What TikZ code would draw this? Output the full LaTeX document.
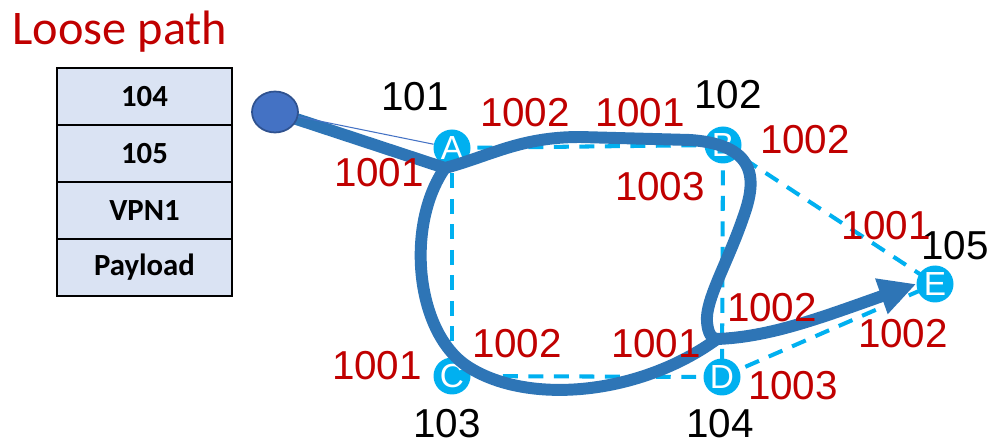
\documentclass[tikz,border=0pt]{standalone}
\usepackage{fontspec}
\setmainfont{Liberation Sans}
\newfontfamily\calibri{Carlito}
\usetikzlibrary{arrows.meta,positioning,shapes.geometric,backgrounds}
\definecolor{linkred}{HTML}{C00000}
\definecolor{linkcyan}{HTML}{00B0F0}
\definecolor{flowblue}{HTML}{2E75B6}
\definecolor{srcblue}{HTML}{4472C4}
\definecolor{srcedge}{HTML}{2F528F}
\definecolor{cellfill}{HTML}{DAE3F3}

\begin{document}
\begin{tikzpicture}[
  x=0.02cm, y=-0.02cm,
  router/.style={circle, fill=linkcyan, text=white, inner sep=0pt,
                 minimum size=0.74cm, font=\fontsize{19}{19}\selectfont},
  source/.style={ellipse, draw=srcedge, line width=1pt, fill=srcblue,
                 minimum width=0.92cm, minimum height=0.82cm, inner sep=0pt},
  cell/.style={draw, line width=1.4pt, fill=cellfill, minimum width=3.5cm,
               minimum height=1.14cm, outer sep=0pt, inner sep=0pt,
               font=\calibri\bfseries\fontsize{17.5}{17.5}\selectfont},
  label/.style={text=linkred, inner sep=0pt, font=\fontsize{23}{23}\selectfont},
  sid/.style={label, text=black},
  link/.style={draw=linkcyan, line width=2.3pt, dash pattern=on 8.5pt off 6pt},
  flow/.style={draw=flowblue, line width=6.8pt},
  arrow/.style={flow, -{Triangle[length=21pt, width=20pt]}}
]
\useasboundingbox (0,0) rectangle (987,445);

% label stack
\node[text=linkred, inner sep=0pt, font=\calibri\fontsize{27.5}{27.5}\selectfont]
  (title) at (120,32) {Loose path};
\node[cell] (c104) at (144.5,96.5) {104};
\node[cell, below=0pt of c104] (c105) {105};
\node[cell, below=0pt of c105] (cvpn) {VPN1};
\node[cell, below=0pt of cvpn] (cpay) {Payload};

% routers
\coordinate (srcpt) at (275,112);
\node[router] (A) at (452,148) {A};
\node[router] (B) at (723,145) {B};
\node[router] (C) at (452,376) {C};
\node[router] (D) at (722,377) {D};
\node[router] (E) at (935,284) {E};
\begin{scope}[on background layer]
\draw[link] (A.center) -- (B.center);
\draw[link] (A.center) -- (C.center);
\draw[link] (C.center) -- (D.center);
\draw[link] (B.center) -- (D.center);
\draw[link] (B.center) -- (E.center);
\draw[link] (D.center) -- (E.center);
\end{scope}

% loose path
\coordinate (acorner) at (445,168);
\coordinate (dcorner) at (717,339);
\draw[flow, line join=round] (srcpt) -- (acorner)
  .. controls (490,156) and (520,137) .. (580,137)
  -- (690,140) .. controls (762,145) and (755,185) .. (743,218)
  .. controls (728,262) and (705,300) .. (707,322)
  .. controls (708,334) and (712,339) .. (dcorner);
\draw[flow] (acorner) .. controls (405,225) and (415,335) .. (470,368)
  .. controls (530,405) and (640,395) .. (dcorner);
\draw[arrow] (dcorner) .. controls (770,337) and (820,318) .. (E.west);
\node[source] (src) at (srcpt) {};
\draw[srcblue, line width=0.6pt] (src) -- (A);

% labels
\node[sid] (n101) at (415,97) {101};
\node[sid] (n102) at (728,95) {102};
\node[sid] (n103) at (447,424) {103};
\node[sid] (n104) at (720,424) {104};
\node[sid] (n105) at (955,246) {105};
\node[label] (a1001) at (379,173) {1001};
\node[label] (a1002) at (525,113) {1002};
\node[label] (b1001) at (640,113) {1001};
\node[label] (b1002) at (805,140) {1002};
\node[label] (b1003) at (660,187) {1003};
\node[label] (e1001) at (886,226) {1001};
\node[label] (d1002) at (772,308) {1002};
\node[label] (e1002) at (903,334) {1002};
\node[label] (c1001) at (377,366) {1001};
\node[label] (c1002) at (517,344) {1002};
\node[label] (d1001) at (656,344) {1001};
\node[label] (d1003) at (793,386) {1003};
\end{tikzpicture}
\end{document}
